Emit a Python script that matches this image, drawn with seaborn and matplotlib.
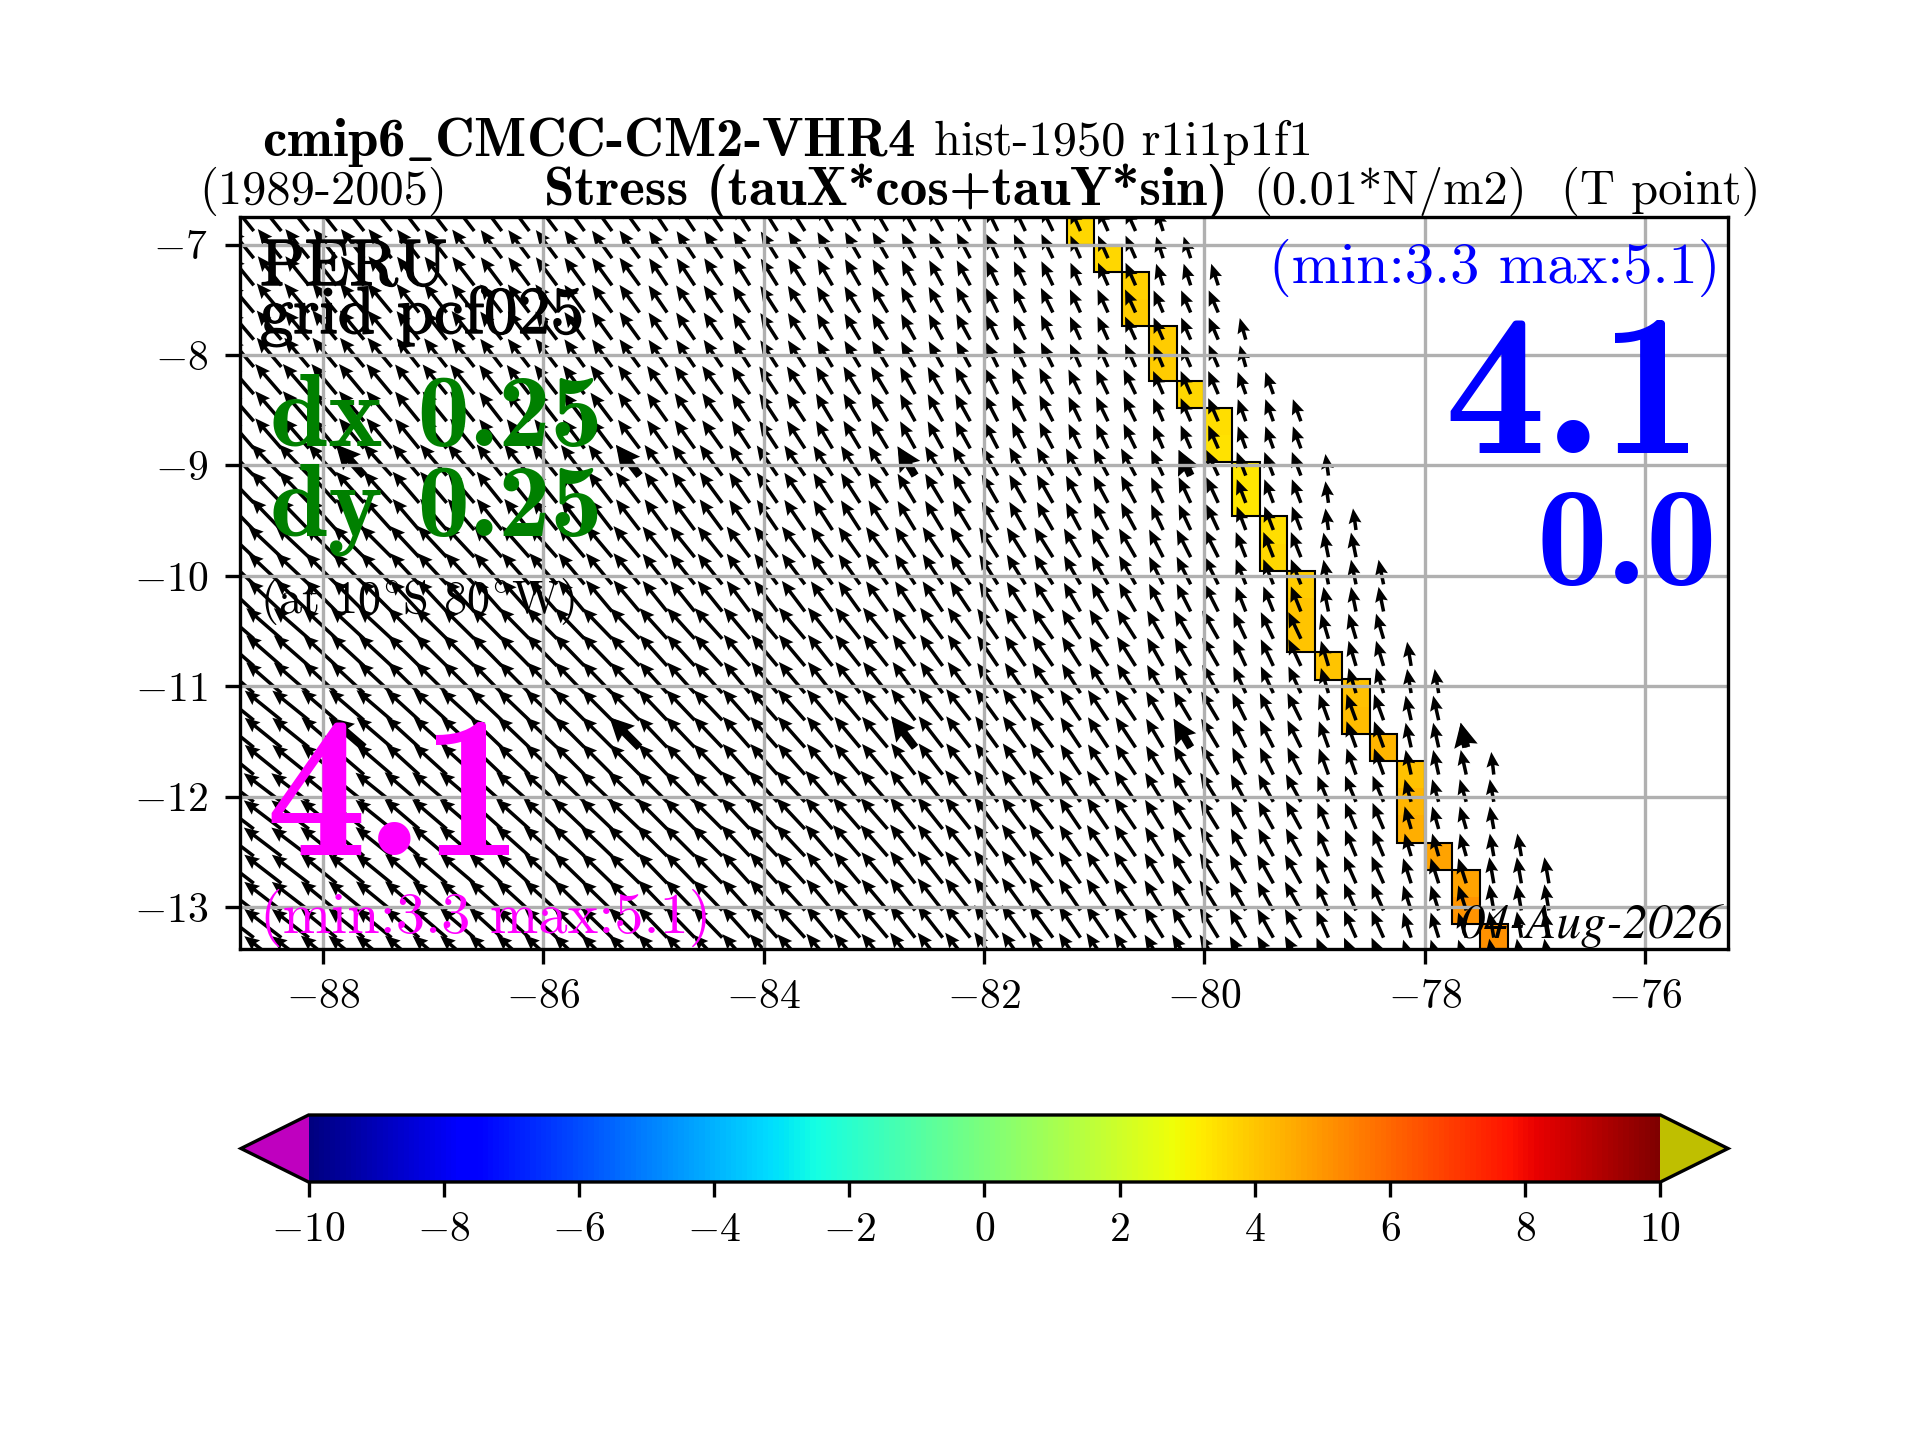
import numpy as np
import matplotlib
matplotlib.use("Agg")
import matplotlib.pyplot as plt
import matplotlib.patheffects as pe
from matplotlib.patches import Rectangle
from matplotlib.colors import Normalize
from matplotlib.cm import ScalarMappable
from matplotlib.ticker import FuncFormatter
import seaborn as sns

# ---------- data ----------
lats = [-6.877, -7.123, -7.369, -7.615, -7.861, -8.108, -8.354, -8.600, -8.846,
        -9.092, -9.339, -9.585, -9.831, -10.077, -10.323, -10.570, -10.816, -11.062,
        -11.308, -11.554, -11.800, -12.047, -12.293, -12.539, -12.785, -13.031, -13.277, -13.523]
lons = [-88.625 + 0.25 * i for i in range(48)]

# easternmost arrow of each latitude row
last_arrow_lon = [-80.375, -80.125, -79.875, -79.875, -79.625, -79.625, -79.375, -79.125, -79.125,
                  -78.875, -78.875, -78.625, -78.625, -78.375, -78.375, -78.375, -78.125, -77.875,
                  -77.875, -77.625, -77.375, -77.375, -77.375, -77.125, -76.875, -76.875, -76.875, -76.875]

# coastal cell of each latitude row: centre longitude and coloured value
coast_lon = [-81.125, -80.875, -80.625, -80.625, -80.375, -80.375, -80.125, -79.875, -79.875,
             -79.625, -79.625, -79.375, -79.375, -79.125, -79.125, -79.125, -78.875, -78.625,
             -78.625, -78.375, -78.125, -78.125, -78.125, -77.875, -77.625, -77.625, -77.375, -77.375]
coast_value = [3.6, 3.6, 3.8, 3.9, 3.9, 3.9, 3.6, 3.5, 3.4,
               3.3, 3.3, 3.5, 3.6, 3.9, 4.0, 4.0, 4.0, 4.1,
               4.2, 4.3, 4.1, 4.3, 4.5, 4.7, 4.7, 5.0, 5.1, 5.1]

# stress components (0.01 N/m2), read for blocks of 3x3 arrows
n = np.nan
tau_x_blocks = [
    [-4.7, -4.6, -4.4, -4.2, -4.0, -3.6, -3.3, -3.0, -2.7, -2.3, -2.0, -1.4, n, n, n, n],
    [-4.9, -4.8, -4.5, -4.3, -4.0, -3.7, -3.4, -3.1, -2.8, -2.4, -2.1, -1.9, -1.2, n, n, n],
    [-5.2, -5.0, -4.8, -4.5, -4.3, -4.0, -3.6, -3.3, -3.0, -2.7, -2.4, -2.0, -1.6, n, n, n],
    [-6.0, -5.6, -5.3, -5.0, -4.7, -4.5, -4.1, -3.8, -3.5, -3.2, -2.9, -2.4, -1.8, -0.6, n, n],
    [-6.6, -6.2, -5.8, -5.5, -5.2, -4.9, -4.6, -4.3, -4.0, -3.7, -3.3, -2.8, -2.0, -1.0, n, n],
    [-7.0, -6.6, -6.2, -6.0, -5.9, -5.5, -5.2, -4.9, -4.5, -4.1, -3.7, -3.2, -2.5, -1.5, -0.8, n],
    [-7.3, -7.0, -6.6, -6.3, -6.0, -5.7, -5.4, -5.1, -4.8, -4.5, -4.0, -3.4, -2.7, -1.9, -1.1, -0.5],
    [-7.5, -7.2, -6.9, -6.6, -6.3, -6.0, -5.7, -5.4, -5.0, -4.7, -4.2, -3.6, -3.0, -2.2, -1.3, -0.8],
    [-7.4, -7.1, -6.8, -6.5, -6.1, -5.8, -5.5, -5.2, -5.0, -4.7, -4.3, -3.7, -3.2, -2.4, -1.6, -0.9],
    [-7.4, -7.1, -6.8, -6.5, -6.1, -5.8, -5.5, -5.2, -5.0, -4.7, -4.3, -3.7, -3.2, -2.4, -1.6, -0.9],
]
tau_y_blocks = [
    [5.8, 5.8, 5.7, 5.6, 5.5, 5.4, 5.3, 5.2, 5.0, 4.8, 4.5, 4.3, n, n, n, n],
    [5.8, 5.8, 5.7, 5.6, 5.5, 5.4, 5.3, 5.2, 5.1, 4.9, 4.6, 4.4, 4.3, n, n, n],
    [6.0, 6.0, 5.9, 5.8, 5.7, 5.6, 5.5, 5.5, 5.4, 5.2, 4.9, 4.6, 4.4, n, n, n],
    [6.2, 6.2, 6.2, 6.2, 6.1, 6.1, 6.0, 5.9, 5.8, 5.6, 5.4, 5.1, 4.7, 4.3, n, n],
    [6.2, 6.2, 6.2, 6.2, 6.2, 6.1, 6.1, 6.0, 6.0, 5.9, 5.7, 5.5, 5.0, 4.9, n, n],
    [6.1, 6.1, 6.1, 6.1, 6.1, 6.1, 6.2, 6.2, 6.2, 6.0, 5.8, 5.6, 5.3, 5.0, 4.8, n],
    [5.9, 6.0, 6.0, 6.0, 6.0, 6.0, 6.1, 6.1, 6.2, 6.2, 6.0, 5.7, 5.4, 5.2, 4.9, 4.5],
    [5.7, 5.8, 5.9, 5.9, 6.0, 6.0, 6.1, 6.2, 6.3, 6.3, 6.2, 5.8, 5.5, 5.2, 4.5, 4.5],
    [5.7, 5.8, 5.8, 5.9, 5.9, 6.0, 6.1, 6.2, 6.4, 6.5, 6.3, 6.0, 5.7, 5.4, 5.0, 5.2],
    [5.7, 5.8, 5.8, 5.9, 5.9, 6.0, 6.1, 6.2, 6.4, 6.5, 6.3, 6.0, 5.7, 5.4, 5.0, 5.2],
]

# the thick arrows
thick_lons = [-87.625, -85.125, -82.625, -80.125, -77.625]
thick_lats = [-9.092, -11.554]

x_ticks = [-88, -86, -84, -82, -80, -78, -76]
y_ticks = [-7, -8, -9, -10, -11, -12, -13]
bar_ticks = [-10, -8, -6, -4, -2, 0, 2, 4, 6, 8, 10]

# ---------- assemble ----------
sns.set_theme(style="ticks", rc={"axes.linewidth": 0.8, "xtick.major.width": 0.8, "ytick.major.width": 0.8})
plt.rcParams["mathtext.fontset"] = "cm"
plt.rcParams["font.family"] = ["cmr10", "DejaVu Serif"]
plt.rcParams["axes.formatter.use_mathtext"] = True
for key in ("xtick.color", "ytick.color", "text.color", "axes.labelcolor", "axes.edgecolor"):
    plt.rcParams[key] = "black"

lat_arr = np.array(lats)
lon_arr = np.array(lons)
nrow = len(lats)
U = np.repeat(np.repeat(np.array(tau_x_blocks), 3, axis=0), 3, axis=1)[:nrow]
V = np.repeat(np.repeat(np.array(tau_y_blocks), 3, axis=0), 3, axis=1)[:nrow]
LON, LAT = np.meshgrid(lon_arr, lat_arr)
keep = LON <= np.array(last_arrow_lon)[:, None] + 1e-6
U = np.where(keep, U, np.nan)
V = np.where(keep, V, np.nan)

C = np.full(LON.shape, np.nan)
for j, (lo, val) in enumerate(zip(coast_lon, coast_value)):
    C[j, np.argmin(np.abs(lon_arr - lo))] = val

cmap = matplotlib.colormaps["jet"].copy()
cmap.set_under((0.75, 0, 0.75))
cmap.set_over((0.75, 0.75, 0))
norm = Normalize(-10, 10)

W, H = 1920, 1440
fig = plt.figure(figsize=(6.4, 4.8), dpi=300)
L, R, T, B = 240, 1728, 217, 949
ax = fig.add_axes([L / W, 1 - B / H, (R - L) / W, (B - T) / H])

ax.pcolormesh(LON, LAT, np.ma.masked_invalid(C), cmap=cmap, norm=norm, shading="nearest", zorder=1)
# coastal outlines, one box per run of rows in the same column
half = (lats[0] - lats[-1]) / (len(lats) - 1) / 2
start = 0
for j in range(1, len(lats) + 1):
    if j == len(lats) or coast_lon[j] != coast_lon[start]:
        ax.add_patch(Rectangle((coast_lon[start] - 0.125, lats[j - 1] - half), 0.25,
                               lats[start] - lats[j - 1] + 2 * half, fill=False, ec="black",
                               lw=0.5, zorder=1.5))
        start = j

q_kw = dict(angles="xy", scale_units="xy", scale=22, pivot="tail", color="black", units="dots",
            zorder=2)
ax.quiver(LON, LAT, U, V, width=3.5, headwidth=3.7, headlength=4.3, headaxislength=3.8, **q_kw)
ti = [np.argmin(np.abs(lon_arr - v)) for v in thick_lons]
tj = [np.argmin(np.abs(lat_arr - v)) for v in thick_lats]
TI, TJ = np.meshgrid(ti, tj)
ax.quiver(LON[TJ, TI], LAT[TJ, TI], U[TJ, TI], V[TJ, TI], width=8, headwidth=3, headlength=3,
          headaxislength=2.7, **q_kw)

ax.set_xlim(-88.75, -75.25)
ax.set_ylim(-13.38, -6.75)
ax.set_xticks(x_ticks)
ax.set_yticks(y_ticks)
ax.grid(True, color="#b0b0b0", lw=0.8, zorder=3)
ax.set_axisbelow(False)
math_fmt = FuncFormatter(lambda v, _: f"${v:g}$")
ax.xaxis.set_major_formatter(math_fmt)
ax.yaxis.set_major_formatter(math_fmt)
ax.tick_params(labelsize=10, length=3.5, width=0.8, direction="out", bottom=True, left=True)
ax.tick_params(axis="y", pad=4.2)
for s in ax.spines.values():
    s.set_linewidth(0.8)
    s.set_color("black")
    s.set_zorder(6)

def put(x, y, s, size, color="black", ha="left", family="cmr10", **kw):
    return fig.text(x / W, 1 - y / H, s, fontsize=size, color=color, ha=ha, va="baseline",
                    family=family, zorder=10, **kw)

# titles
put(589, 156, r"cmip6$\_$CMCC-CM2-VHR4", 13.2, family="cmb10", ha="center")
put(934, 155, "hist-1950 r1i1p1f1", 11.65)
put(199, 204, "(1989-2005)", 11.65)
put(886, 205, "Stress (tauX*cos+tauY*sin)", 13.2, family="cmb10", ha="center")
put(1253, 204, "(0.01*N/m2)", 11.65)
put(1561, 204, "(T point)", 11.65)
# annotations inside
heavy = [pe.withStroke(linewidth=0.35, foreground="black")]
put(260, 285, "PERU", 15.8, path_effects=heavy)
put(260, 333, "grid pcf025", 16, path_effects=heavy)
put(436, 446, "dx 0.25", 25, color="green", family="cmb10", ha="center")
put(436, 536, "dy 0.25", 25, color="green", family="cmb10", ha="center")
put(260, 613, r"(at 10$^{\circ}$S 80$^{\circ}$W)", 11.15)
put(394.5, 855, "4.1", 48.5, color="magenta", family="cmb10", ha="center")
put(260, 933, "(min:3.3 max:5.1)", 14, color="magenta")
put(1720, 283, "(min:3.3 max:5.1)", 14, color="blue", ha="right")
put(1573, 453, "4.1", 48.5, color="blue", ha="center", family="cmb10")
put(1627, 584, "0.0", 34, color="blue", ha="center", family="cmb10")
put(1723, 938, "04-Aug-2026", 12, ha="right", family="STIXGeneral", style="italic")

# colour bar
cax = fig.add_axes([241 / W, 1 - 1182 / H, (1728 - 241) / W, 67 / H])
cb = fig.colorbar(ScalarMappable(norm=norm, cmap=cmap), cax=cax, orientation="horizontal",
                  extend="both", ticks=bar_ticks)
cb.ax.xaxis.set_major_formatter(math_fmt)
cb.ax.tick_params(labelsize=10, length=3.5, width=0.8, bottom=True)
cb.outline.set_linewidth(0.8)
cb.outline.set_edgecolor("black")

fig.savefig("out.png", dpi=300, facecolor="white")
